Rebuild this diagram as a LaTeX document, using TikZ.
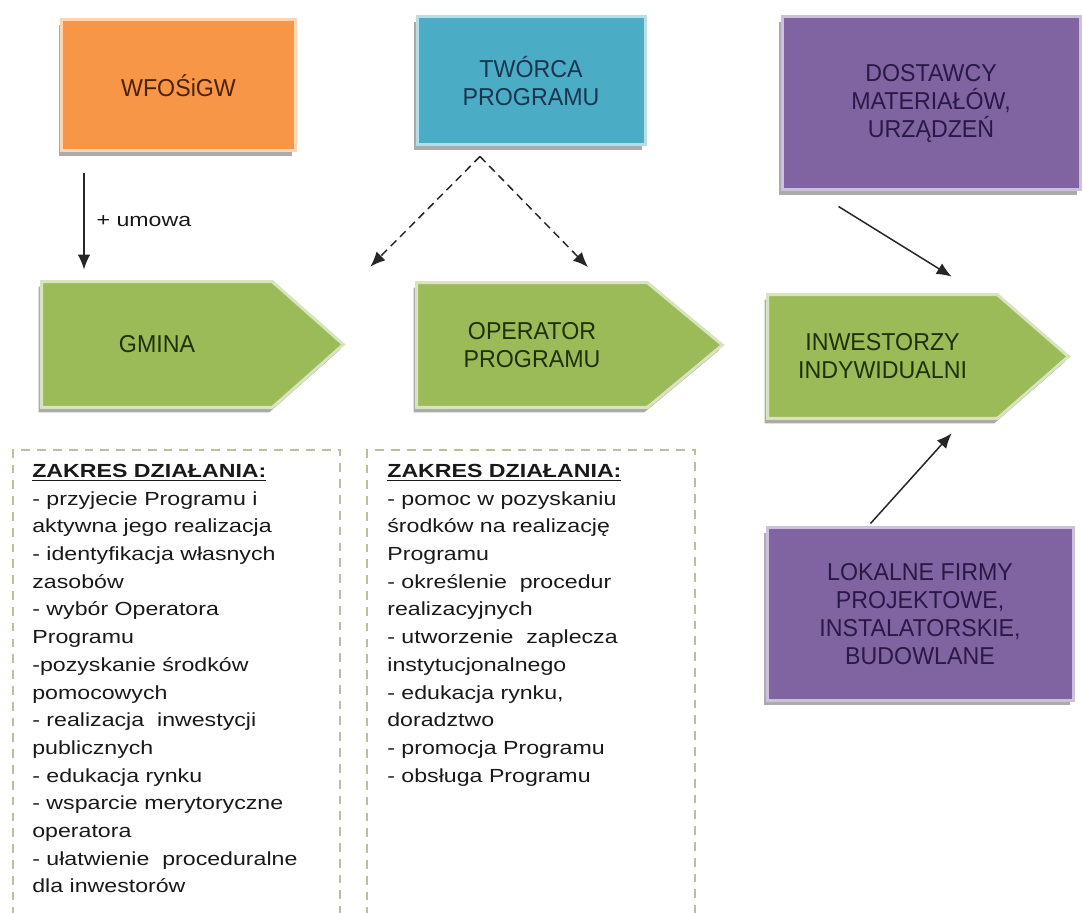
\documentclass[tikz,border=0pt]{standalone}
\usepackage{fontspec}
\setmainfont{Liberation Sans}
\newfontfamily\listfont[FakeStretch=1.22]{Liberation Sans}
\newfontfamily\boxfont[FakeStretch=0.95]{Liberation Sans}
\usepackage{xcolor}
\usepackage{tikz}
\usetikzlibrary{positioning,calc,backgrounds,shadows,arrows.meta}

\definecolor{orangebox}{HTML}{F79646}
\definecolor{orangetext}{HTML}{4A2206}
\definecolor{bluebox}{HTML}{4BACC6}
\definecolor{bluetext}{HTML}{1B3550}
\definecolor{purplebox}{HTML}{8064A2}
\definecolor{purpletext}{HTML}{2A1846}
\definecolor{greenbox}{HTML}{9BBB59}
\definecolor{greentext}{HTML}{1E3208}
\definecolor{framecol}{HTML}{BDBDA0}

\begin{document}
\begin{tikzpicture}[
    x=0.2cm, y=0.2cm,
    box/.style={
        fill=#1, draw=#1!40!white, line width=0.06cm,
        align=center, inner sep=2pt,
        font=\boxfont\fontsize{13.9pt}{15.9pt}\selectfont,
        drop shadow={shadow xshift=-0.06cm, shadow yshift=-0.1cm, fill=black!55, opacity=0.6}
    },
    arrowbody/.style={
        minimum width=4.6cm, minimum height=2.5cm, inner sep=2pt,
        align=center, text=greentext,
        font=\boxfont\fontsize{13.9pt}{15.9pt}\selectfont
    },
    arrowfill/.style={
        fill=greenbox, draw=greenbox!40!white, line width=0.06cm,
        drop shadow={shadow xshift=-0.06cm, shadow yshift=-0.1cm, fill=black!55, opacity=0.6}
    },
    conn/.style={-{Latex[length=0.3cm, width=0.25cm]}, line width=0.85pt, draw=black!85},
    connd/.style={conn, dash pattern=on 4.5pt off 3pt},
    frame/.style={draw=framecol, line width=0.8pt, dash pattern=on 5pt off 4pt},
    listtext/.style={
        anchor=north west, inner sep=0pt, align=left, text=black!90,
        font=\listfont\fontsize{10.8pt}{15.75pt}\selectfont
    },
    edgetext/.style={text=black!90, font=\listfont\fontsize{10.8pt}{15.75pt}\selectfont}
    ]
    % obszar rysunku
    \useasboundingbox (0,0) rectangle (108.3,91.2);

    % === GÓRNE PROSTOKĄTY ===
    \node[box=orangebox, text=orangetext, minimum width=4.66cm, minimum height=2.62cm] (wfos) at (17.85,82.65) {WFOŚiGW};
    \node[box=bluebox, text=bluetext, minimum width=4.56cm, minimum height=2.56cm] (tworca) at (53.1,83.1) {TWÓRCA\\PROGRAMU};
    \node[box=purplebox, text=purpletext, minimum width=5.96cm, minimum height=3.46cm] (dostawcy) at (93.1,80.85) {DOSTAWCY\\MATERIAŁÓW,\\URZĄDZEŃ};

    % === ZIELONE STRZAŁKI ===
    \node[arrowbody] (gmina) at (15.7,56.75) {GMINA};
    \node[arrowbody, minimum height=2.48cm] (operator) at (53.2,56.7) {OPERATOR\\PROGRAMU};
    \node[arrowbody, minimum width=4.58cm, minimum height=2.46cm] (inwestorzy) at (88.25,55.55) {INWESTORZY\\INDYWIDUALNI};
    \begin{scope}[on background layer]
        \foreach \n/\tip in {gmina/7.1, operator/7.5, inwestorzy/7.1} {
            \path[arrowfill] (\n.north west) -- (\n.north east) -- ($(\n.east)+(\tip,0)$)
                -- (\n.south east) -- (\n.south west) -- cycle;
        }
    \end{scope}

    % dolny prostokąt
    \node[box=purplebox, text=purpletext, minimum width=6.12cm, minimum height=3.44cm] (lokalne) at (92.0,29.8) {LOKALNE FIRMY\\PROJEKTOWE,\\INSTALATORSKIE,\\BUDOWLANE};

    % === POŁĄCZENIA ===
    \draw[conn] ($(wfos.south west)+(2.35,-2.1)$) coordinate (umowa)
        -- (umowa |- {$(gmina.north)+(0,1.2)$})
        node[midway, right=0.12cm, edgetext] {+ umowa};
    \draw[connd] ($(tworca.south)+(-5.1,-1.0)$) -- ($(gmina.north east)+(9.8,1.5)$);
    \draw[connd] ($(tworca.south)+(-5.1,-1.0)$) -- ($(operator.north)+(5.6,1.55)$);
    \draw[conn] ($(dostawcy.south west)+(5.8,-1.5)$) -- ($(inwestorzy.north west)+(18.4,1.8)$);
    \draw[conn] ($(lokalne.north west)+(10.5,0.3)$) -- ($(inwestorzy.south west)+(18.4,-1.5)$);

    % === ZAKRES DZIAŁANIA ===
    \draw[frame] (1.3,-2) |- (34.0,46.2) -- (34.0,-2);
    \draw[frame] (36.7,-2) |- (69.5,46.2) -- (69.5,-2);

    \node[listtext] (zakresgmina) at (3.2,44.8) {\textbf{\underline{ZAKRES DZIAŁANIA:}}\\
        - przyjecie Programu i\\
        aktywna jego realizacja\\
        - identyfikacja własnych\\
        zasobów\\
        - wybór Operatora\\
        Programu\\
        -pozyskanie środków\\
        pomocowych\\
        - realizacja~ inwestycji\\
        publicznych\\
        - edukacja rynku\\
        - wsparcie merytoryczne\\
        operatora\\
        - ułatwienie~ proceduralne\\
        dla inwestorów};
    \node[listtext] (zakresoperator) at (38.7,44.8) {\textbf{\underline{ZAKRES DZIAŁANIA:}}\\
        - pomoc w pozyskaniu\\
        środków na realizację\\
        Programu\\
        - określenie~ procedur\\
        realizacyjnych\\
        - utworzenie~ zaplecza\\
        instytucjonalnego\\
        - edukacja rynku,\\
        doradztwo\\
        - promocja Programu\\
        - obsługa Programu};

\end{tikzpicture}
\end{document}
